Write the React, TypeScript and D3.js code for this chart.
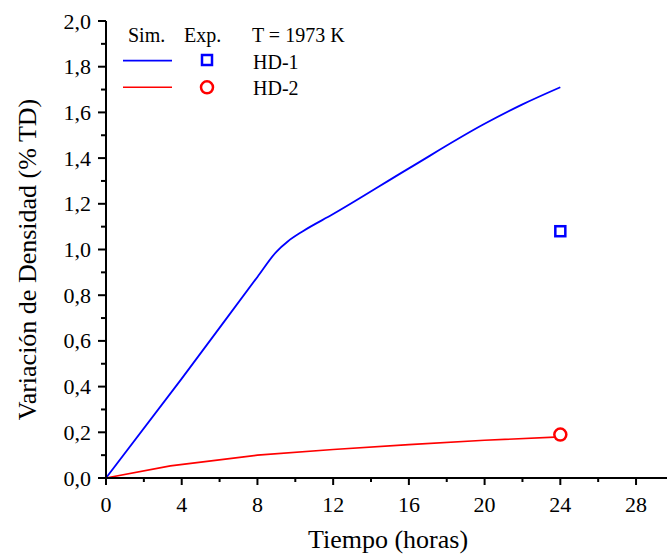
import React from "react";
import * as d3 from "d3";

const hd1Time = [0, 4, 8, 9, 9.6, 10.4, 12, 16, 20, 22, 24];
const hd1Sim = [0, 0.435, 0.88, 0.99, 1.035, 1.08, 1.155, 1.355, 1.55, 1.635, 1.71];
const hd2Time = [0, 3.4, 8, 12, 16, 20, 24];
const hd2Sim = [0, 0.053, 0.1, 0.125, 0.146, 0.165, 0.18];
const expTime = [24];
const hd1Exp = [1.08];
const hd2Exp = [0.19];
const xMajorTicks = [0, 4, 8, 12, 16, 20, 24, 28];
const xMinorTicks = [2, 6, 10, 14, 18, 22, 26];
const yMajorTicks = [0, 0.2, 0.4, 0.6, 0.8, 1.0, 1.2, 1.4, 1.6, 1.8, 2.0];
const yMinorTicks = [0.1, 0.3, 0.5, 0.7, 0.9, 1.1, 1.3, 1.5, 1.7, 1.9];
const legendHeader = ["Sim.", "Exp.", "T = 1973 K"];
const seriesNames = ["HD-1", "HD-2"];
const xTitle = "Tiempo (horas)";
const yTitle = "Variación de Densidad (% TD)";

const W = 667;
const H = 558;
const FONT = "Liberation Serif";

function T(props: { x: number; y: number; size: number; anchor?: "start" | "middle" | "end"; children: string; transform?: string }) {
  const { x, y, size, anchor = "start", children, transform } = props;
  return (
    <text
      x={x}
      y={y}
      fontSize={size}
      textAnchor={anchor}
      fill="#000"
      transform={transform}
      style={{ fontFamily: FONT }}
    >
      {children}
    </text>
  );
}

export default function App() {
  const x = d3.scaleLinear().domain([0, 30]).range([106, 106 + 30 * 18.93]);
  const y = d3.scaleLinear().domain([0, 2]).range([478, 21]);
  const smooth = d3
    .line<[number, number]>()
    .x((d) => x(d[0]))
    .y((d) => y(d[1]))
    .curve(d3.curveMonotoneX);
  const straight = d3
    .line<[number, number]>()
    .x((d) => x(d[0]))
    .y((d) => y(d[1]))
    .curve(d3.curveLinear);
  const hd1 = hd1Time.map((t, i) => [t, hd1Sim[i]] as [number, number]);
  const hd2 = hd2Time.map((t, i) => [t, hd2Sim[i]] as [number, number]);
  const fmt = (v: number) => v.toFixed(1).replace(".", ",");
  const x0 = x(0);
  const y0 = y(0);
  const yMid = (y(0) + y(2)) / 2 + 10;

  return (
    <svg
      width={W}
      height={H}
      style={{ position: "absolute", left: 0, top: 0, background: "#fff" }}
    >
      <rect x={0} y={0} width={W} height={H} fill="#fff" />
      <path d={smooth(hd1) || ""} fill="none" stroke="#0000ff" strokeWidth={1.8} />
      <path d={straight(hd2) || ""} fill="none" stroke="#ff0000" strokeWidth={1.6} />
      {expTime.map((t, i) => (
        <rect
          key={"sq" + i}
          x={x(t) - 5}
          y={y(hd1Exp[i]) - 5}
          width={10}
          height={10}
          fill="none"
          stroke="#0000ff"
          strokeWidth={2.5}
        />
      ))}
      {expTime.map((t, i) => (
        <circle
          key={"ci" + i}
          cx={x(t)}
          cy={y(hd2Exp[i])}
          r={6}
          fill="#fff"
          stroke="#ff0000"
          strokeWidth={2.5}
        />
      ))}

      <line x1={x0} x2={W} y1={y0} y2={y0} stroke="#000" strokeWidth={2} />
      <line x1={x0} x2={x0} y1={y(2)} y2={y0 + 1} stroke="#000" strokeWidth={2} />
      {xMajorTicks.map((t) => (
        <g key={"xM" + t}>
          <line x1={x(t)} x2={x(t)} y1={y0} y2={y0 + 7} stroke="#000" strokeWidth={2} />
          <T x={x(t)} y={512} size={22} anchor="middle">{String(t)}</T>
        </g>
      ))}
      {xMinorTicks.map((t) => (
        <line key={"xm" + t} x1={x(t)} x2={x(t)} y1={y0} y2={y0 + 4} stroke="#000" strokeWidth={2} />
      ))}
      {yMajorTicks.map((v) => (
        <g key={"yM" + v}>
          <line x1={x0 - 8} x2={x0} y1={y(v)} y2={y(v)} stroke="#000" strokeWidth={2} />
          <T x={91} y={y(v) + 7.5} size={22} anchor="end">{fmt(v)}</T>
        </g>
      ))}
      {yMinorTicks.map((v) => (
        <line key={"ym" + v} x1={x0 - 5} x2={x0} y1={y(v)} y2={y(v)} stroke="#000" strokeWidth={2} />
      ))}

      <T x={388} y={548} size={26} anchor="middle">{xTitle}</T>
      <T x={0} y={0} size={26} anchor="middle" transform={`translate(36, ${yMid}) rotate(-90)`}>{yTitle}</T>

      <T x={128} y={41.5} size={20}>{legendHeader[0]}</T>
      <T x={184} y={41.5} size={20}>{legendHeader[1]}</T>
      <T x={252} y={41.5} size={20}>{legendHeader[2]}</T>
      <line x1={123} x2={172} y1={60.7} y2={60.7} stroke="#0000ff" strokeWidth={1.8} />
      <rect x={202} y={55} width={10} height={10} fill="none" stroke="#0000ff" strokeWidth={2.5} />
      <T x={253} y={68.5} size={20}>{seriesNames[0]}</T>
      <line x1={123} x2={172} y1={87.3} y2={87.3} stroke="#ff0000" strokeWidth={1.6} />
      <circle cx={207} cy={87.3} r={6} fill="#fff" stroke="#ff0000" strokeWidth={2.5} />
      <T x={253} y={94.5} size={20}>{seriesNames[1]}</T>
    </svg>
  );
}
